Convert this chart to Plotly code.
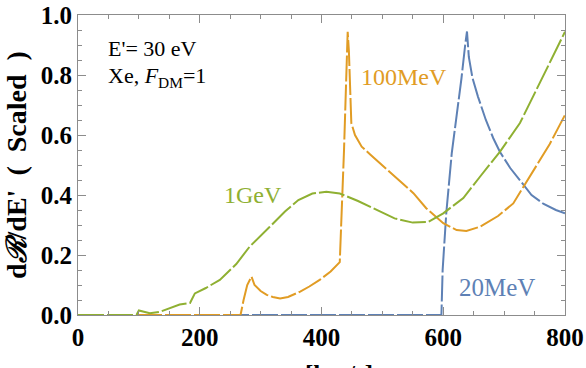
import plotly.graph_objects as go

# 20MeV (blue)
x_20mev = [0, 597, 599, 602, 605, 614, 622, 630, 636, 639, 642, 648, 657, 670, 682, 693, 710, 726, 745, 765, 785, 800]
y_20mev = [0, 0, 0.15, 0.25, 0.34, 0.54, 0.66, 0.79, 0.9, 0.945, 0.86, 0.79, 0.728, 0.65, 0.59, 0.544, 0.49, 0.45, 0.4, 0.37, 0.35, 0.339]

# 100MeV (orange)
x_100mev = [0, 267, 272, 278, 285, 290, 300, 310, 320, 332, 345, 365, 380, 397, 415, 430, 437, 443, 445, 447, 449, 455,
            466, 480, 496, 512, 529, 551, 572, 600, 622, 638, 660, 690, 715, 748, 775, 800]
y_100mev = [0, 0, 0.05, 0.1, 0.128, 0.1, 0.08, 0.067, 0.06, 0.055, 0.06, 0.078, 0.095, 0.117, 0.145, 0.176, 0.55, 0.944,
            0.88, 0.783, 0.64, 0.6, 0.561, 0.535, 0.506, 0.475, 0.444, 0.406, 0.356, 0.306, 0.283, 0.28, 0.294, 0.33,
            0.372, 0.483, 0.57, 0.667]

# 1GeV (green)
x_1gev = [0, 96, 100, 105, 118, 135, 150, 167, 184, 188, 192, 210, 233, 260, 282, 315, 340, 362, 385, 408, 430, 460,
          490, 520, 550, 575, 600, 633, 660, 693, 726, 753, 775, 800]
y_1gev = [0, 0, 0.015, 0.012, 0.006, 0.011, 0.022, 0.035, 0.04, 0.055, 0.072, 0.09, 0.117, 0.17, 0.228, 0.294, 0.345,
          0.383, 0.405, 0.411, 0.405, 0.38, 0.35, 0.322, 0.308, 0.31, 0.339, 0.39, 0.46, 0.544, 0.64, 0.75, 0.84, 0.944]

x_ticks = [0, 200, 400, 600, 800]
y_ticks = [0.0, 0.2, 0.4, 0.6, 0.8, 1.0]

BLUE = "#5E81B5"
ORANGE = "#E19C24"
GREEN = "#8FB032"
DASH = "26px,3px"
SERIF = "Liberation Serif"

fig = go.Figure()
for xs, ys, col in [(x_20mev, y_20mev, BLUE), (x_100mev, y_100mev, ORANGE), (x_1gev, y_1gev, GREEN)]:
    fig.add_trace(go.Scatter(x=xs, y=ys, mode="lines",
                             line=dict(color=col, width=2, dash=DASH), showlegend=False))

axis_common = dict(
    showline=True, linecolor="#8c8c8c", linewidth=1.2, mirror="ticks",
    ticks="inside", ticklen=8, tickwidth=1, tickcolor="#8c8c8c",
    showgrid=False, zeroline=False, automargin=False,
    tickfont=dict(family=SERIF, size=25, color="black"),
)

fig.update_xaxes(range=[0, 800], tickvals=x_ticks, ticktext=[f"<b>{v}</b>" for v in x_ticks],
                 minor=dict(dtick=50, ticks="inside", ticklen=4, tickcolor="#8c8c8c"),
                 **axis_common)
fig.update_yaxes(range=[0, 1], tickvals=y_ticks, ticktext=[f"<b>{v:.1f}</b>" for v in y_ticks],
                 minor=dict(dtick=0.05, ticks="inside", ticklen=4, tickcolor="#8c8c8c"),
                 **axis_common)

fig.update_layout(
    width=586, height=368,
    margin=dict(l=78, r=21, t=15, b=53),
    plot_bgcolor="white", paper_bgcolor="white",
    annotations=[
        dict(text="E'= 30 eV", xref="x", yref="y", x=46, y=0.89, xanchor="left", yanchor="middle",
             showarrow=False, font=dict(family=SERIF, size=22, color="black")),
        dict(text="Xe, <i>F</i><sub>DM</sub>=1", xref="x", yref="y", x=46, y=0.795, xanchor="left", yanchor="middle",
             showarrow=False, font=dict(family=SERIF, size=22, color="black")),
        dict(text="1GeV", xref="x", yref="y", x=236, y=0.4, xanchor="left", yanchor="middle",
             showarrow=False, font=dict(family=SERIF, size=24, color=GREEN)),
        dict(text="100MeV", xref="x", yref="y", x=461, y=0.793, xanchor="left", yanchor="middle",
             showarrow=False, font=dict(family=SERIF, size=24, color=ORANGE)),
        dict(text="20MeV", xref="x", yref="y", x=622, y=0.093, xanchor="left", yanchor="middle",
             showarrow=False, font=dict(family=SERIF, size=25, color=BLUE)),
        dict(text="<b>d<i>ℛ</i>/dE'  (  Scaled  )</b>", xref="paper", yref="paper", x=(16 - 78) / 487, y=0.5,
             xanchor="center", yanchor="middle", textangle=-90, showarrow=False,
             font=dict(family=SERIF, size=28, color="black")),
        dict(text="<b>[km/s]</b>", xref="paper", yref="paper", x=(303 - 78) / 487, y=-0.147,
             xanchor="left", yanchor="top", showarrow=False,
             font=dict(family=SERIF, size=25, color="black")),
    ],
)

fig.write_html("out.html", config={"displayModeBar": False},
               post_script="document.body.style.margin='0';")
